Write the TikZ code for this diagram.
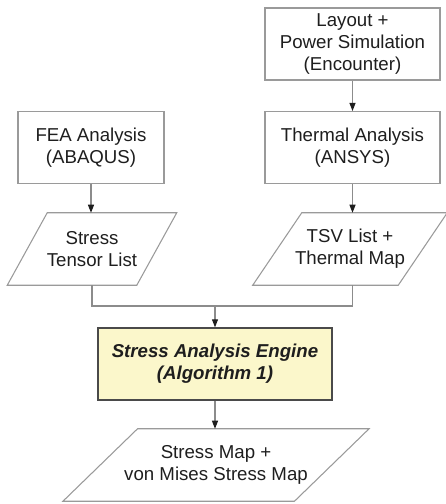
\documentclass[tikz,border=0pt]{standalone}
\usepackage{fontspec}
\setmainfont{Liberation Sans}
\usetikzlibrary{arrows.meta}

\definecolor{edgegray}{HTML}{9A9A9A}
\definecolor{linegray}{HTML}{8C8C8C}
\definecolor{inkdark}{HTML}{1E1E1E}
\definecolor{enginefill}{HTML}{FBF7CB}
\definecolor{engineedge}{HTML}{4A4A4A}

\tikzset{
  flowtext/.style={text=inkdark, align=center,
    font=\fontsize{14pt}{16.5pt}\selectfont},
  procbox/.style={flowtext, draw=edgegray, line width=0.8pt, fill=white,
    minimum width=175*0.75pt, minimum height=72*0.75pt, inner sep=0pt},
  enginebox/.style={flowtext, draw=engineedge, line width=1pt, fill=enginefill,
    minimum width=234*0.75pt, minimum height=72*0.75pt, inner sep=0pt,
    font=\fontsize{14pt}{16.5pt}\selectfont\bfseries\itshape},
  datatext/.style={flowtext, minimum height=72*0.75pt, inner sep=0pt},
  dataedge/.style={draw=edgegray, line width=0.8pt},
  flow/.style={draw=linegray, line width=0.8pt,
    -{Triangle[length=6pt,width=4.5pt,color=inkdark]}},
  joinline/.style={draw=linegray, line width=0.8pt},
}

% outline of a data (parallelogram) node: name, half of the horizontal slant
\newcommand\dataoutline[2]{%
  \draw[dataedge] ([xshift=#2]#1.north west) -- ([xshift=#2]#1.north east)
    -- ([xshift=-#2]#1.south east) -- ([xshift=-#2]#1.south west) -- cycle;}

\begin{document}
\begin{tikzpicture}[x=0.75pt,y=-0.75pt]
  \useasboundingbox (0,0) rectangle (446,504);

  % process boxes
  \node[procbox] (layout) at (352.5,44)
    {Layout +\\Power Simulation\\(Encounter)};
  \node[procbox] (thermal) at (352.5,147.5)
    {Thermal Analysis\\(ANSYS)};
  \node[procbox, minimum width=146*0.75pt] (fea) at (91,147.5)
    {FEA Analysis\\(ABAQUS)};

  % data nodes
  \node[datatext, minimum width=129*0.75pt] (tensor) at (92,249)
    {Stress\\Tensor List};
  \dataoutline{tensor}{15pt}
  \node[datatext, minimum width=145*0.75pt] (tsv) at (350,249)
    {TSV List +\\Thermal Map};
  \dataoutline{tsv}{18.4pt}

  % engine
  \node[enginebox] (engine) at (215,364)
    {Stress Analysis Engine\\(Algorithm 1)};

  % result
  \node[datatext, minimum width=231*0.75pt] (result) at (216,465)
    {Stress Map +\\von Mises Stress Map};
  \dataoutline{result}{28pt}

  % junction below the two inputs
  \coordinate (jl) at (tensor.south |- 0,306);
  \coordinate (jr) at (352.5,306);
  \coordinate (jm) at (engine.north |- 0,306);

  % connectors
  \draw[flow] (layout) -- (thermal);
  \draw[flow] (thermal.south) -- (thermal.south |- tsv.north);
  \draw[flow] (fea.south) -- (fea.south |- tensor.north);
  \draw[joinline] (tensor.south) -- (jl) -- (jr) -- (jr |- tsv.south);
  \draw[flow] (jm) -- (engine.north);
  \draw[flow] (engine.south) -- (engine.south |- result.north);
\end{tikzpicture}
\end{document}
